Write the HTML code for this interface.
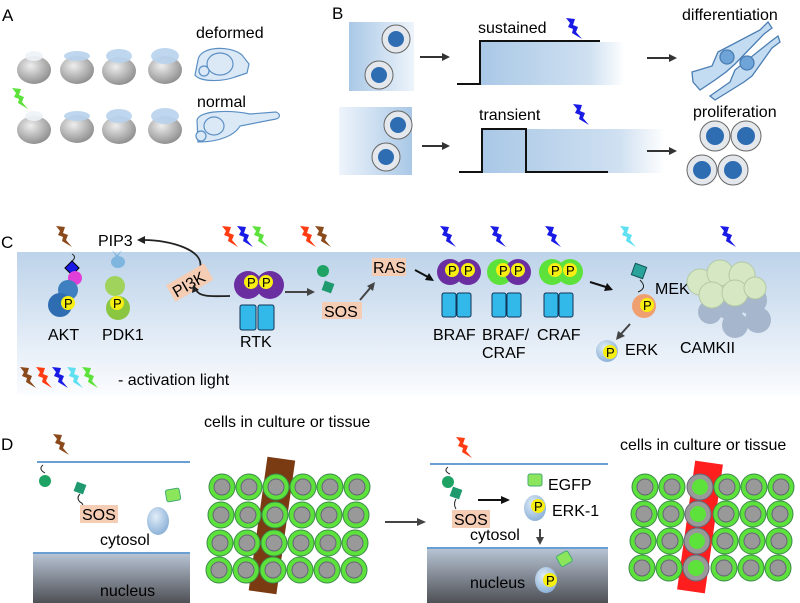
<!DOCTYPE html>
<html><head><meta charset="utf-8"><style>
html,body{margin:0;padding:0;background:#fff;}
svg{display:block;font-family:"Liberation Sans",Arial,sans-serif;}
</style></head><body>
<svg width="800" height="603" viewBox="0 0 800 603" xmlns="http://www.w3.org/2000/svg">
<defs>
<path id="bolt" d="M0,0 L9,1 L7,7 L12,9 L10,14 L16,21 L6,15 L7,11 L2,9 L4,5 Z"/>
<radialGradient id="egg" cx="0.4" cy="0.35" r="0.7"><stop offset="0" stop-color="#eee"/><stop offset="1" stop-color="#8a8a8a"/></radialGradient>
<linearGradient id="band" x1="0" y1="0" x2="0" y2="1"><stop offset="0" stop-color="#bdd3ea"/><stop offset="1" stop-color="#fbfcfe"/></linearGradient>
<linearGradient id="boxL" x1="0" y1="0" x2="1" y2="0"><stop offset="0" stop-color="#a9c8e6"/><stop offset="1" stop-color="#eef4fb"/></linearGradient>
<linearGradient id="boxR" x1="0" y1="0" x2="1" y2="0"><stop offset="0" stop-color="#eef4fb"/><stop offset="1" stop-color="#a9c8e6"/></linearGradient>
<linearGradient id="graph" x1="0" y1="0" x2="1" y2="0"><stop offset="0" stop-color="#a9c8e6"/><stop offset="0.75" stop-color="#cfe0f1"/><stop offset="1" stop-color="#fff"/></linearGradient>
<linearGradient id="nuc" x1="0" y1="0" x2="0" y2="1"><stop offset="0" stop-color="#b7c3d3"/><stop offset="1" stop-color="#4e5055"/></linearGradient>
<radialGradient id="gb" cx="0.4" cy="0.35" r="0.7"><stop offset="0" stop-color="#e1edf8"/><stop offset="1" stop-color="#87aed6"/></radialGradient>
</defs>

<!-- Panel A -->
<text x="2" y="21" font-size="17">A</text>
<text x="196" y="38" font-size="16">deformed</text>
<text x="197" y="107" font-size="16">normal</text>
<g fill="url(#egg)">
<ellipse cx="34" cy="70" rx="17" ry="14"/><ellipse cx="77" cy="70" rx="17" ry="14"/><ellipse cx="119" cy="71" rx="17" ry="14"/><ellipse cx="165" cy="70" rx="17" ry="14"/>
<ellipse cx="34" cy="130" rx="17" ry="14"/><ellipse cx="77" cy="129" rx="17" ry="14"/><ellipse cx="119" cy="130" rx="17" ry="14"/><ellipse cx="165" cy="130" rx="17" ry="14"/>
</g>
<g fill="#b8d3ee" opacity="0.9">
<ellipse cx="34" cy="56" rx="9" ry="5" fill="#eef3f8"/><ellipse cx="77" cy="56" rx="13" ry="5"/><ellipse cx="119" cy="56" rx="13" ry="7"/><ellipse cx="165" cy="56" rx="14" ry="8"/>
<ellipse cx="34" cy="116" rx="9" ry="5" fill="#eef3f8"/><ellipse cx="77" cy="116" rx="13" ry="5"/><ellipse cx="119" cy="116" rx="13" ry="7"/><ellipse cx="165" cy="116" rx="14" ry="8"/>
</g>
<use href="#bolt" x="12" y="88" fill="#5de23c"/>
<g fill="#dbe9f7" stroke="#5b8fc4" stroke-width="1.2">
<path d="M198,60 C200,46 230,45 242,55 L249,64 L247,73 L235,77 C222,82 200,82 195,75 Z"/>
<circle cx="204" cy="71" r="5"/><ellipse cx="220" cy="64" rx="13" ry="11"/>
<path d="M197,120 C200,110 230,110 250,114 L276,112 C281,114 280,118 276,119 L240,126 C235,135 220,142 198,142 Z"/>
<circle cx="201" cy="136" r="5"/><ellipse cx="214" cy="126" rx="10" ry="9"/>
</g>

<!-- Panel B -->
<text x="332" y="19" font-size="17">B</text>
<rect x="349" y="22" width="65" height="69" fill="url(#boxL)"/>
<rect x="339" y="107" width="73" height="68" fill="url(#boxR)"/>
<g fill="#e4e8ec" stroke="#666" stroke-width="1">
<circle cx="396" cy="39" r="14"/><circle cx="379" cy="75" r="14"/><circle cx="398" cy="125" r="14"/><circle cx="386" cy="157" r="14"/>
<circle cx="715" cy="136" r="15"/><circle cx="746" cy="136" r="15"/><circle cx="702" cy="170" r="15"/><circle cx="733" cy="170" r="15"/>
</g>
<g fill="#2f6db3">
<circle cx="396" cy="39" r="8"/><circle cx="379" cy="75" r="8"/><circle cx="398" cy="125" r="8"/><circle cx="386" cy="157" r="8"/>
<circle cx="715" cy="136" r="9"/><circle cx="746" cy="136" r="9"/><circle cx="702" cy="170" r="9"/><circle cx="733" cy="170" r="9"/>
</g>
<rect x="480" y="42" width="145" height="43" fill="url(#graph)"/>
<rect x="482" y="129" width="183" height="44" fill="url(#graph)"/>
<polyline points="457,84 480,84 480,41 600,41" fill="none" stroke="#111" stroke-width="2"/>
<polyline points="459,172 482,172 482,129 526,129 526,172 608,172" fill="none" stroke="#111" stroke-width="2"/>
<text x="478" y="33" font-size="16">sustained</text>
<text x="479" y="120" font-size="16">transient</text>
<use href="#bolt" x="566" y="18" fill="#1a1ae6"/>
<use href="#bolt" x="573" y="104" fill="#1a1ae6"/>
<text x="682" y="20" font-size="16">differentiation</text>
<text x="693" y="117" font-size="16">proliferation</text>
<g stroke="#333" stroke-width="2" fill="#333">
<line x1="420" y1="57" x2="443" y2="57"/><polygon points="450,57 442,53 442,61" stroke="none"/>
<line x1="422" y1="146" x2="443" y2="146"/><polygon points="450,146 442,142 442,150" stroke="none"/>
<line x1="647" y1="58" x2="670" y2="58"/><polygon points="677,58 669,54 669,62" stroke="none"/>
<line x1="647" y1="151" x2="670" y2="151"/><polygon points="677,151 669,147 669,155" stroke="none"/>
</g>
<g fill="#c4dcf1" stroke="#4a7db3" stroke-width="1.3">
<path d="M692,72 L712,66 L718,52 L760,30 L768,22 L772,28 L764,34 L735,64 L726,72 L715,80 L700,90 L693,82 Z"/>
<path d="M710,96 L730,82 L735,70 L770,42 L778,36 L780,42 L772,48 L752,76 L744,82 L728,92 L715,100 Z"/>
<circle cx="727" cy="57" r="7" fill="#6ea4d8"/><circle cx="747" cy="63" r="7" fill="#6ea4d8"/>
</g>

<!-- Panel C -->
<text x="1" y="248" font-size="17">C</text>
<rect x="17" y="252" width="783" height="143" fill="url(#band)"/>
<use href="#bolt" x="56" y="226" fill="#8b4a1c"/>
<use href="#bolt" x="222" y="226" fill="#ff3c12"/><use href="#bolt" x="237" y="226" fill="#1a1ae6"/><use href="#bolt" x="252" y="226" fill="#5de23c"/>
<use href="#bolt" x="300" y="226" fill="#ff3c12"/><use href="#bolt" x="315" y="226" fill="#8b4a1c"/>
<use href="#bolt" x="440" y="226" fill="#1a1ae6"/><use href="#bolt" x="490" y="226" fill="#1a1ae6"/><use href="#bolt" x="545" y="226" fill="#1a1ae6"/>
<use href="#bolt" x="620" y="226" fill="#5fe0f0"/><use href="#bolt" x="720" y="226" fill="#1a1ae6"/>
<use href="#bolt" x="20" y="367" fill="#8b4a1c"/><use href="#bolt" x="36" y="367" fill="#ff3c12"/><use href="#bolt" x="52" y="367" fill="#1a1ae6"/><use href="#bolt" x="67" y="367" fill="#5fe0f0"/><use href="#bolt" x="82" y="367" fill="#5de23c"/>
<text x="118" y="385" font-size="16">- activation light</text>
<text x="98" y="246" font-size="16">PIP3</text>
<path d="M200,268 C205,250 170,240 144,240" fill="none" stroke="#222" stroke-width="1.8"/><polygon points="137,240 145,236 145,244" fill="#222"/>
<!-- AKT -->
<path d="M72,254 q5,3 0,7" fill="none" stroke="#222"/>
<rect x="67" y="263" width="10" height="10" fill="#1a1ae6" stroke="#000" transform="rotate(45 72 268)"/>
<circle cx="75" cy="278" r="7" fill="#e040d8"/>
<circle cx="68" cy="290" r="10" fill="#3e7fbf"/><circle cx="60" cy="305" r="12" fill="#2f6db3"/>
<circle cx="68" cy="303" r="7" fill="#f7ee12"/><text x="64" y="308" font-size="13">P</text>
<text x="48" y="340" font-size="16">AKT</text>
<!-- PDK1 -->
<path d="M117,255 l-5,-5 l5,8 l5,-8 z" fill="#7fb6e0"/><ellipse cx="118" cy="262" rx="7" ry="6" fill="#7fb6e0"/>
<circle cx="115" cy="286" r="10" fill="#9fd35c"/><circle cx="118" cy="308" r="12" fill="#8ac63f"/>
<circle cx="117" cy="303" r="7" fill="#f7ee12"/><text x="113" y="308" font-size="13">P</text>
<text x="102" y="340" font-size="16">PDK1</text>
<!-- PI3K -->
<g transform="rotate(-30 190 283)"><rect x="168" y="273" width="44" height="19" fill="#f5cdb5"/><text x="171" y="289" font-size="16">PI3K</text></g>
<path d="M230,296 C215,296 200,298 196,290" fill="none" stroke="#222" stroke-width="1.8"/><polygon points="193,285 199,290 192,293" fill="#222"/>
<!-- RTK -->
<circle cx="248" cy="285" r="14" fill="#6b2ea0"/><circle cx="270" cy="285" r="14" fill="#6b2ea0"/>
<circle cx="251" cy="282" r="7" fill="#f7ee12"/><circle cx="266" cy="282" r="7" fill="#f7ee12"/>
<text x="247" y="287" font-size="13">P</text><text x="262" y="287" font-size="13">P</text>
<rect x="240" y="305" width="16" height="25" rx="2" fill="#33b8ea" stroke="#135"/><rect x="258" y="305" width="16" height="25" rx="2" fill="#33b8ea" stroke="#135"/>
<text x="240" y="347" font-size="16">RTK</text>
<line x1="285" y1="292" x2="308" y2="292" stroke="#444" stroke-width="2"/><polygon points="315,292 307,288 307,296" fill="#444"/>
<!-- SOS -->
<circle cx="323" cy="271" r="6" fill="#1fa364"/><rect x="323" y="282" width="10" height="10" fill="#1f9a6f" transform="rotate(20 328 287)"/>
<rect x="322" y="302" width="40" height="17" fill="#f5cdb5"/><text x="324" y="317" font-size="16">SOS</text>
<line x1="360" y1="300" x2="371" y2="287" stroke="#444" stroke-width="2"/><polygon points="375,282 367,286 373,291" fill="#444"/>
<rect x="372" y="258" width="34" height="18" fill="#f5cdb5"/><text x="373" y="273" font-size="16">RAS</text>
<line x1="415" y1="270" x2="428" y2="277" stroke="#111" stroke-width="2"/><polygon points="434,281 425,280 429,273" fill="#111"/>
<!-- RAFs -->
<g>
<circle cx="450" cy="272" r="13" fill="#6b2ea0"/><circle cx="468" cy="272" r="13" fill="#6b2ea0"/>
<circle cx="500" cy="272" r="13" fill="#5de23c"/><circle cx="518" cy="272" r="13" fill="#6b2ea0"/>
<circle cx="552" cy="272" r="13" fill="#5de23c"/><circle cx="570" cy="272" r="13" fill="#5de23c"/>
<g fill="#f7ee12"><circle cx="452" cy="270" r="7"/><circle cx="468" cy="270" r="7"/><circle cx="503" cy="270" r="7"/><circle cx="518" cy="270" r="7"/><circle cx="555" cy="270" r="7"/><circle cx="570" cy="270" r="7"/></g>
<g font-size="13"><text x="448" y="275">P</text><text x="464" y="275">P</text><text x="499" y="275">P</text><text x="514" y="275">P</text><text x="551" y="275">P</text><text x="566" y="275">P</text></g>
<g fill="#33b8ea" stroke="#135"><rect x="442" y="293" width="14" height="24" rx="2"/><rect x="457" y="293" width="14" height="24" rx="2"/>
<rect x="492" y="293" width="14" height="24" rx="2"/><rect x="507" y="293" width="14" height="24" rx="2"/>
<rect x="544" y="293" width="14" height="24" rx="2"/><rect x="559" y="293" width="14" height="24" rx="2"/></g>
<text x="433" y="340" font-size="16">BRAF</text><text x="482" y="340" font-size="16">BRAF/</text><text x="482" y="358" font-size="16">CRAF</text><text x="537" y="340" font-size="16">CRAF</text>
</g>
<line x1="590" y1="282" x2="606" y2="287" stroke="#111" stroke-width="2"/><polygon points="613,290 604,291 607,283" fill="#111"/>
<!-- MEK -->
<rect x="633" y="265" width="12" height="12" fill="#2aa39a" stroke="#155" transform="rotate(20 639 271)"/>
<path d="M640,280 q8,8 -2,12" fill="none" stroke="#222"/>
<circle cx="644" cy="306" r="12" fill="#f0a070"/><circle cx="647" cy="305" r="7" fill="#f7ee12"/><text x="643" y="310" font-size="13">P</text>
<text x="655" y="294" font-size="16">MEK</text>
<line x1="630" y1="324" x2="621" y2="334" stroke="#444" stroke-width="2"/><polygon points="616,340 618,331 625,336" fill="#444"/>
<circle cx="607" cy="351" r="11" fill="url(#gb)"/><circle cx="610" cy="352" r="7" fill="#f7ee12"/><text x="606" y="357" font-size="13">P</text>
<text x="625" y="355" font-size="16">ERK</text>
<!-- CAMKII -->
<g fill="#a6b6cc"><circle cx="730" cy="305" r="15"/><circle cx="752" cy="300" r="15"/><circle cx="758" cy="320" r="13"/><circle cx="735" cy="325" r="13"/><circle cx="710" cy="312" r="12"/></g>
<g fill="#d5e7c3" stroke="#b4c9a3"><circle cx="700" cy="282" r="13"/><circle cx="720" cy="273" r="13"/><circle cx="742" cy="275" r="13"/><circle cx="712" cy="295" r="13"/><circle cx="735" cy="293" r="13"/><circle cx="755" cy="288" r="11"/></g>
<text x="680" y="353" font-size="16">CAMKII</text>

<!-- Panel D -->
<text x="1" y="450" font-size="17">D</text>
<use href="#bolt" x="53" y="434" fill="#8b4a1c"/>
<line x1="37" y1="462" x2="190" y2="462" stroke="#6a9fd4" stroke-width="2"/>
<path d="M43,465 q-5,4 2,8" fill="none" stroke="#222"/>
<circle cx="45" cy="481" r="6" fill="#1fa364"/>
<rect x="75" y="483" width="10" height="10" fill="#1f9a6f" transform="rotate(20 80 488)"/>
<path d="M80,494 q-4,4 0,8 q4,2 2,4" fill="none" stroke="#222"/>
<rect x="80" y="505" width="38" height="18" fill="#f5cdb5"/><text x="82" y="520" font-size="16">SOS</text>
<text x="100" y="545" font-size="16">cytosol</text>
<rect x="166" y="489" width="14" height="12" rx="2" fill="#8be65c" stroke="#4a7" transform="rotate(-10 173 495)"/>
<ellipse cx="158" cy="521" rx="11" ry="14" fill="url(#gb)"/>
<line x1="33" y1="553" x2="190" y2="553" stroke="#6a9fd4" stroke-width="2"/>
<rect x="33" y="554" width="157" height="49" fill="url(#nuc)"/>
<text x="100" y="596" font-size="16">nucleus</text>
<text x="204" y="427" font-size="16">cells in culture or tissue</text>
<rect x="258" y="458" width="28" height="135" fill="#7a3a12" transform="rotate(8 272 525)"/>
<g stroke="#3c8a4a" stroke-width="1">
<g fill="#5de23c">
<circle cx="222" cy="487" r="13"/><circle cx="249" cy="487" r="13"/><circle cx="276" cy="487" r="13"/><circle cx="303" cy="487" r="13"/><circle cx="330" cy="487" r="13"/><circle cx="357" cy="487" r="13"/>
<circle cx="221" cy="515" r="13"/><circle cx="248" cy="515" r="13"/><circle cx="275" cy="515" r="13"/><circle cx="302" cy="515" r="13"/><circle cx="329" cy="515" r="13"/><circle cx="356" cy="515" r="13"/>
<circle cx="220" cy="543" r="13"/><circle cx="247" cy="543" r="13"/><circle cx="274" cy="543" r="13"/><circle cx="301" cy="543" r="13"/><circle cx="328" cy="543" r="13"/><circle cx="355" cy="543" r="13"/>
<circle cx="219" cy="570" r="13"/><circle cx="246" cy="570" r="13"/><circle cx="273" cy="570" r="13"/><circle cx="300" cy="570" r="13"/><circle cx="327" cy="570" r="13"/><circle cx="354" cy="570" r="13"/>
</g>
<g fill="#999" stroke="#667">
<circle cx="222" cy="487" r="8"/><circle cx="249" cy="487" r="8"/><circle cx="276" cy="487" r="8"/><circle cx="303" cy="487" r="8"/><circle cx="330" cy="487" r="8"/><circle cx="357" cy="487" r="8"/>
<circle cx="221" cy="515" r="8"/><circle cx="248" cy="515" r="8"/><circle cx="275" cy="515" r="8"/><circle cx="302" cy="515" r="8"/><circle cx="329" cy="515" r="8"/><circle cx="356" cy="515" r="8"/>
<circle cx="220" cy="543" r="8"/><circle cx="247" cy="543" r="8"/><circle cx="274" cy="543" r="8"/><circle cx="301" cy="543" r="8"/><circle cx="328" cy="543" r="8"/><circle cx="355" cy="543" r="8"/>
<circle cx="219" cy="570" r="8"/><circle cx="246" cy="570" r="8"/><circle cx="273" cy="570" r="8"/><circle cx="300" cy="570" r="8"/><circle cx="327" cy="570" r="8"/><circle cx="354" cy="570" r="8"/>
</g></g>
<line x1="385" y1="522" x2="418" y2="522" stroke="#444" stroke-width="2"/><polygon points="426,522 417,518 417,526" fill="#444"/>

<!-- D right -->
<use href="#bolt" x="456" y="437" fill="#ff3c12"/>
<line x1="430" y1="464" x2="608" y2="464" stroke="#6a9fd4" stroke-width="2"/>
<path d="M448,467 q-5,4 2,7" fill="none" stroke="#222"/>
<circle cx="448" cy="482" r="6" fill="#1fa364"/>
<rect x="451" y="488" width="10" height="10" fill="#1f9a6f" transform="rotate(20 456 493)"/>
<path d="M456,499 q-3,5 0,10" fill="none" stroke="#222"/>
<rect x="452" y="510" width="38" height="18" fill="#f5cdb5"/><text x="454" y="525" font-size="16">SOS</text>
<line x1="478" y1="500" x2="502" y2="500" stroke="#111" stroke-width="2"/><polygon points="510,500 501,496 501,504" fill="#111"/>
<rect x="528" y="474" width="14" height="12" rx="2" fill="#8be65c" stroke="#4a7"/>
<ellipse cx="535" cy="508" rx="11" ry="13" fill="url(#gb)"/><circle cx="538" cy="506" r="7" fill="#f7ee12"/><text x="534" y="511" font-size="13">P</text>
<text x="548" y="490" font-size="16">EGFP</text><text x="552" y="516" font-size="16">ERK-1</text>
<text x="470" y="540" font-size="16">cytosol</text>
<line x1="540" y1="529" x2="540" y2="539" stroke="#444" stroke-width="2"/><polygon points="540,545 536,537 544,537" fill="#444"/>
<line x1="427" y1="548" x2="608" y2="548" stroke="#6a9fd4" stroke-width="2"/>
<rect x="427" y="549" width="181" height="54" fill="url(#nuc)"/>
<text x="470" y="588" font-size="16">nucleus</text>
<rect x="558" y="553" width="13" height="12" rx="2" fill="#8be65c" stroke="#4a7" transform="rotate(-30 564 559)"/>
<ellipse cx="546" cy="580" rx="11" ry="13" fill="url(#gb)"/><circle cx="550" cy="580" r="7" fill="#f7ee12"/><text x="546" y="585" font-size="13">P</text>
<text x="620" y="450" font-size="16">cells in culture or tissue</text>
<rect x="686" y="462" width="28" height="130" fill="#ff1e1e" transform="rotate(8 700 527)"/>
<g stroke="#3c8a4a" stroke-width="1">
<g fill="#5de23c">
<circle cx="645" cy="487" r="13"/><circle cx="672" cy="487" r="13"/><circle cx="727" cy="487" r="13"/><circle cx="754" cy="487" r="13"/><circle cx="781" cy="487" r="13"/>
<circle cx="644" cy="514" r="13"/><circle cx="671" cy="514" r="13"/><circle cx="726" cy="514" r="13"/><circle cx="753" cy="514" r="13"/><circle cx="780" cy="514" r="13"/>
<circle cx="643" cy="541" r="13"/><circle cx="670" cy="541" r="13"/><circle cx="725" cy="541" r="13"/><circle cx="752" cy="541" r="13"/><circle cx="779" cy="541" r="13"/>
<circle cx="642" cy="568" r="13"/><circle cx="669" cy="568" r="13"/><circle cx="724" cy="568" r="13"/><circle cx="751" cy="568" r="13"/><circle cx="778" cy="568" r="13"/>
</g>
<g fill="#999" stroke="#667">
<circle cx="645" cy="487" r="8"/><circle cx="672" cy="487" r="8"/><circle cx="727" cy="487" r="8"/><circle cx="754" cy="487" r="8"/><circle cx="781" cy="487" r="8"/>
<circle cx="644" cy="514" r="8"/><circle cx="671" cy="514" r="8"/><circle cx="726" cy="514" r="8"/><circle cx="753" cy="514" r="8"/><circle cx="780" cy="514" r="8"/>
<circle cx="643" cy="541" r="8"/><circle cx="670" cy="541" r="8"/><circle cx="725" cy="541" r="8"/><circle cx="752" cy="541" r="8"/><circle cx="779" cy="541" r="8"/>
<circle cx="642" cy="568" r="8"/><circle cx="669" cy="568" r="8"/><circle cx="724" cy="568" r="8"/><circle cx="751" cy="568" r="8"/><circle cx="778" cy="568" r="8"/>
<circle cx="700" cy="487" r="13"/><circle cx="698" cy="514" r="13"/><circle cx="697" cy="541" r="13"/><circle cx="696" cy="568" r="13"/>
</g>
<g fill="#5de23c" stroke="none">
<circle cx="700" cy="487" r="8"/><circle cx="698" cy="514" r="8"/><circle cx="697" cy="541" r="8"/><circle cx="696" cy="568" r="8"/>
</g></g>
</svg>
</body></html>
